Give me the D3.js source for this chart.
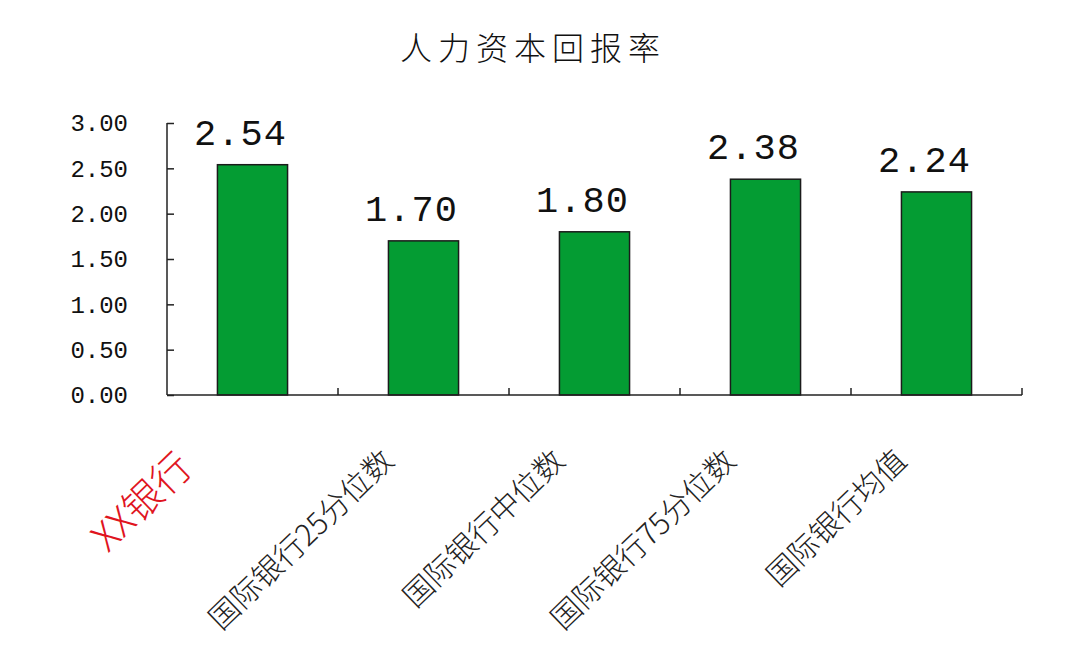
<!DOCTYPE html>
<html><head><meta charset="utf-8">
<script src="https://cdn.jsdelivr.net/npm/d3@7/dist/d3.min.js"></script>
<style>body{margin:0;background:#fff}svg{display:block}</style>
</head><body>
<svg id="c" width="1080" height="667"></svg>
<script>
const categories = ["XX银行","国际银行25分位数","国际银行中位数","国际银行75分位数","国际银行均值"];
const values = [2.54, 1.70, 1.80, 2.38, 2.24];
const yTicks = [0, 0.5, 1.0, 1.5, 2.0, 2.5, 3.0];
const title = "人力资本回报率";

const svg = d3.select("#c");
const m = {left:167, right:1022, top:123, bottom:395};
const x = d3.scaleBand().domain(categories).range([m.left, m.right]).paddingInner(0.59).paddingOuter(0.295);
const y = d3.scaleLinear().domain([0, 3]).range([m.bottom, m.top]);

svg.append("text").attr("x", 533).attr("y", 60).attr("text-anchor","middle")
  .attr("font-family","'Noto Sans CJK SC'").attr("font-weight",300).attr("font-size",32).attr("letter-spacing",6)
  .attr("fill","#111").text(title);

// bars
svg.selectAll("rect.bar").data(values).enter().append("rect")
  .attr("x",(d,i)=>x(categories[i])).attr("width",x.bandwidth())
  .attr("y",d=>y(d)).attr("height",d=>y(0)-y(d))
  .attr("fill","#049c33").attr("stroke","#1b1b1b").attr("stroke-width",1.5);

// value labels
svg.selectAll("text.val").data(values).enter().append("text")
  .attr("x",(d,i)=>x(categories[i])+x.bandwidth()/2-12).attr("y",d=>y(d)-20)
  .attr("text-anchor","middle").attr("font-family","'Liberation Mono'").attr("font-size",37)
  .attr("letter-spacing",1).attr("fill","#111").text(d=>d.toFixed(2));

// y axis
const ya = d3.axisLeft(y).tickValues(yTicks).tickFormat(d3.format(".2f")).tickSize(-7).tickPadding(39);
const gy = svg.append("g").attr("transform",`translate(${m.left},0)`).call(ya);
gy.select(".domain").attr("stroke","#222").attr("stroke-width",1.5).attr("d",`M0,${m.top}V${m.bottom}`);
gy.selectAll(".tick line").attr("stroke","#222").attr("stroke-width",1.5);
gy.selectAll(".tick text").attr("font-family","'Liberation Mono'").attr("font-size",24)
  .attr("letter-spacing",0).attr("fill","#111");

// x axis line and boundary ticks
const bScale = d3.scaleLinear().domain([0, categories.length]).range([m.left, m.right]);
svg.append("line").attr("x1",m.left).attr("x2",m.right).attr("y1",m.bottom).attr("y2",m.bottom)
  .attr("stroke","#222").attr("stroke-width",1.5);
svg.selectAll("line.bt").data(d3.range(1, categories.length+1)).enter().append("line")
  .attr("x1",d=>bScale(d)).attr("x2",d=>bScale(d)).attr("y1",m.bottom).attr("y2",m.bottom-7)
  .attr("stroke","#222").attr("stroke-width",1.5);

// x labels
svg.selectAll("text.xl").data(categories).enter().append("text")
  .attr("transform",(d,i)=>`translate(${x(d)+x.bandwidth()/2-(i===0?58:28)},${m.bottom+(i===0?75:68)}) rotate(-44)`)
  .attr("text-anchor","end")
  .attr("font-family","'Noto Sans CJK SC'")
  .attr("font-weight",300)
  .attr("font-size",(d,i)=>i===0?39:30)
  .attr("fill",(d,i)=>i===0?"#e0141e":"#222")
  .text(d=>d);
</script>
</body></html>
